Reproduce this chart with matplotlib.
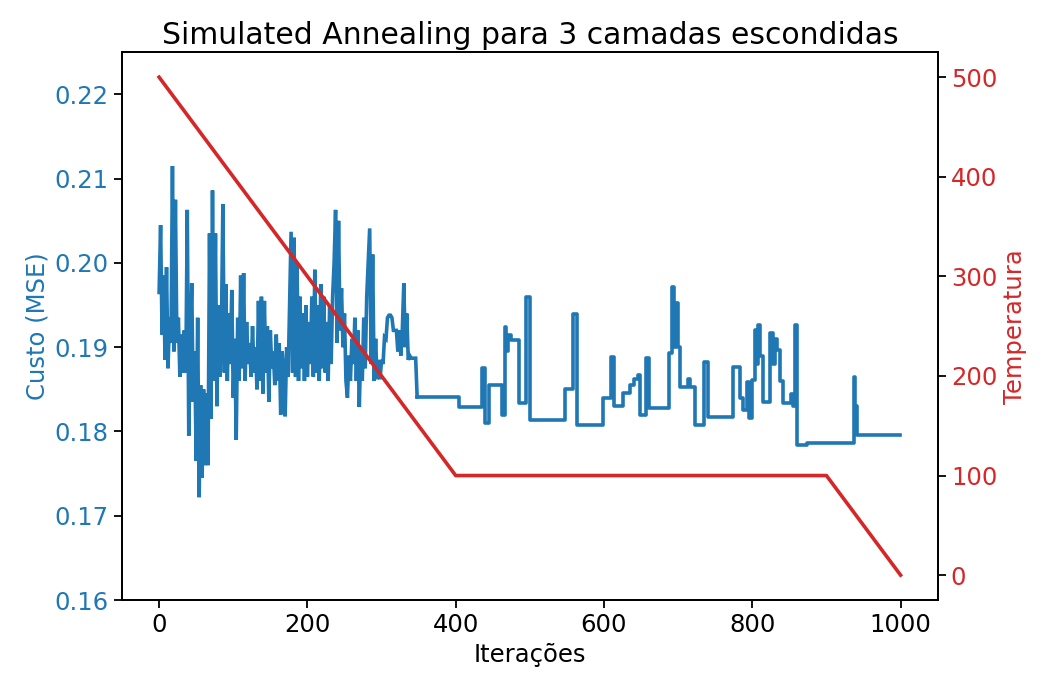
import matplotlib
matplotlib.use("Agg")
import matplotlib.pyplot as plt
import numpy as np

# Noisy phase: values every 2 iterations (0..346)
noisy_iters = list(range(0, 348, 2))
noisy_cost = [
    0.1965, 0.2045, 0.1915, 0.1985, 0.1885, 0.1995, 0.1875, 0.1935, 0.1905, 0.2115,
    0.1895, 0.2075, 0.1905, 0.1935, 0.1865, 0.1915, 0.1870, 0.1920, 0.1870, 0.2063,
    0.1795, 0.1905, 0.1976, 0.1835, 0.1895, 0.1765, 0.1935, 0.1722, 0.1855, 0.1745,
    0.1850, 0.1760, 0.1845, 0.1760, 0.2035, 0.1815, 0.2086, 0.1860, 0.2035, 0.1830,
    0.1950, 0.1865, 0.1920, 0.2070, 0.1870, 0.1975, 0.1860, 0.1940, 0.1880, 0.1968,
    0.1840, 0.1910, 0.1790, 0.1935, 0.1860, 0.1985, 0.1875, 0.1988, 0.1860, 0.1930,
    0.1880, 0.1905, 0.1865, 0.1925, 0.1870, 0.1900, 0.1850, 0.1955, 0.1860, 0.1960,
    0.1845, 0.1955, 0.1870, 0.1925, 0.1835, 0.1920, 0.1875, 0.1895, 0.1855, 0.1915,
    0.1860, 0.1905, 0.1820, 0.1895, 0.1870, 0.1818, 0.1900, 0.1865, 0.1950, 0.2037,
    0.1870, 0.2030, 0.1865, 0.2000, 0.1860, 0.1960, 0.1875, 0.1940, 0.1860, 0.1950,
    0.1865, 0.1930, 0.1880, 0.1960, 0.1865, 0.1992, 0.1870, 0.1950, 0.1860, 0.1975,
    0.1875, 0.1960, 0.1870, 0.1930, 0.1860, 0.1950, 0.1880, 0.1960, 0.2000, 0.2063,
    0.1905, 0.2050, 0.1920, 0.1970, 0.1900, 0.1940, 0.1860, 0.1840, 0.1890, 0.1860,
    0.1910, 0.1880, 0.1935, 0.1860, 0.1920, 0.1829, 0.1900, 0.1860, 0.1935, 0.1875,
    0.1960, 0.2000, 0.2041, 0.1880, 0.2010, 0.1860, 0.1910, 0.1862, 0.1885, 0.1862,
    0.1885, 0.1880, 0.1912, 0.1910, 0.1935, 0.1938, 0.1938, 0.1935, 0.1920, 0.1920,
    0.1920, 0.1895, 0.1920, 0.1890, 0.1920, 0.1976, 0.1900, 0.1940, 0.1885, 0.1890,
    0.1887, 0.1887, 0.1887, 0.1887,
]

# Later phase: step breakpoints (iteration where a new accepted cost starts)
step_iters = [348, 405, 435, 440, 445, 463, 466, 468, 470, 474, 485, 495, 500, 547, 558,
              563, 598, 609, 614, 625, 635, 640, 646, 649, 656, 661, 688, 692, 695, 697,
              700, 703, 713, 716, 723, 735, 740, 774, 784, 787, 793, 796, 800, 803, 806,
              808, 811, 815, 824, 828, 831, 834, 838, 842, 852, 855, 857, 860, 874, 937,
              939, 941, 999]
step_cost = [0.1841, 0.1829, 0.1875, 0.1810, 0.1855, 0.1820, 0.1924, 0.1895, 0.1915, 0.1908,
             0.1834, 0.1960, 0.1814, 0.1851, 0.1940, 0.1808, 0.1840, 0.1888, 0.1830, 0.1846,
             0.1855, 0.1862, 0.1867, 0.1820, 0.1887, 0.1828, 0.1893, 0.1971, 0.1900, 0.1953,
             0.1900, 0.1853, 0.1862, 0.1853, 0.1808, 0.1883, 0.1817, 0.1877, 0.1840, 0.1826,
             0.1859, 0.1816, 0.1861, 0.1920, 0.1880, 0.1926, 0.1890, 0.1835, 0.1917, 0.1880,
             0.1910, 0.1897, 0.1860, 0.1834, 0.1845, 0.1830, 0.1926, 0.1784, 0.1786, 0.1865,
             0.1830, 0.1796, 0.1796]

temp_iters = [0, 400, 900, 1000]
temp_vals = [500, 100, 100, 0]

fs = 17.5
fig = plt.figure(figsize=(10.43, 6.79), dpi=100)
ax = fig.add_axes([0.117, 0.1163, 0.782, 0.8067])
blue = "tab:blue"
red = "tab:red"
ax.plot(noisy_iters + step_iters[:1], noisy_cost + step_cost[:1],
        color=blue, lw=2.6, solid_joinstyle="miter")
ax.plot(step_iters, step_cost, color=blue, lw=2.6, drawstyle="steps-post")
ax.set_ylim(0.16, 0.225)
ax.set_yticks([0.16, 0.17, 0.18, 0.19, 0.20, 0.21, 0.22])
ax.set_xticks([0, 200, 400, 600, 800, 1000])
ax.set_xlim(-50, 1050)
ax.set_xlabel("Iterações", fontsize=fs)
ax.set_ylabel("Custo (MSE)", color=blue, fontsize=fs)
ax.tick_params(axis="y", labelcolor=blue, labelsize=fs, length=6, width=1.3)
ax.tick_params(axis="x", labelsize=fs, length=6, width=1.3)

ax2 = ax.twinx()
ax2.plot(temp_iters, temp_vals, color=red, lw=2.6)
ax2.set_ylim(-25, 525)
ax2.set_yticks([0, 100, 200, 300, 400, 500])
ax2.set_ylabel("Temperatura", color=red, fontsize=fs)
ax2.tick_params(axis="y", labelcolor=red, labelsize=fs, length=6, width=1.3)

for a in (ax, ax2):
    for s in a.spines.values():
        s.set_linewidth(1.3)

ax.set_title("Simulated Annealing para 3 camadas escondidas", fontsize=21.5)
fig.savefig("out.png", dpi=100)
